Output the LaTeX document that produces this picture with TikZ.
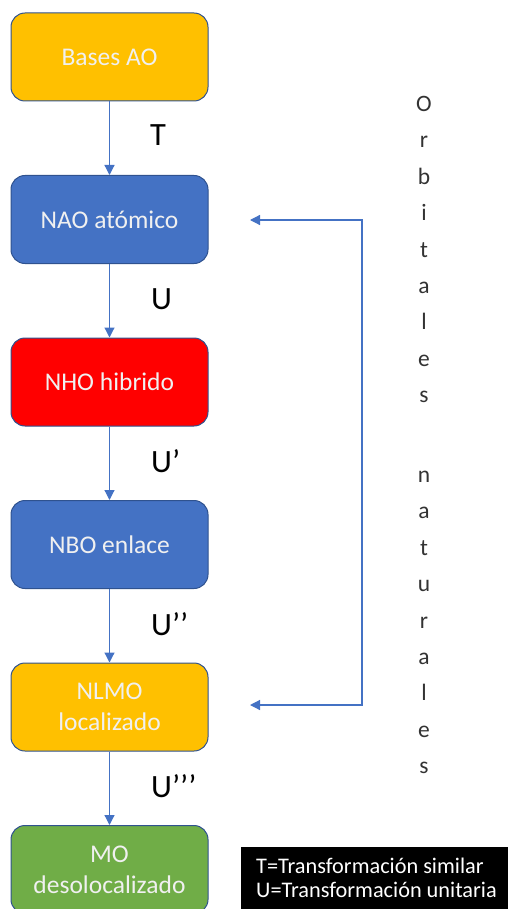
\documentclass[tikz,border=0pt]{standalone}
\usepackage{fontspec}
\setmainfont{Carlito}
\usetikzlibrary{arrows.meta}
\definecolor{oorange}{HTML}{FFC000}
\definecolor{oblue}{HTML}{4472C4}
\definecolor{ored}{HTML}{FF0000}
\definecolor{ogreen}{HTML}{70AD47}
\definecolor{oborder}{HTML}{2F528F}
\tikzset{
  box/.style={draw=oborder, line width=1pt, rounded corners=14pt, minimum width=197pt,
    minimum height=88pt, inner sep=0pt, text=white!94!black, align=center,
    font=\fontsize{25.5}{31}\selectfont},
  conn/.style={draw=oblue, line width=1.2pt, -{Triangle[length=10pt,width=10pt]}},
  lbl/.style={anchor=base west, inner sep=0pt, font=\fontsize{32.5}{36}\selectfont},
  vlet/.style={anchor=base, inner sep=0pt, text=black!80, font=\fontsize{23.5}{27}\selectfont},
  legtxt/.style={anchor=base west, inner sep=0pt, text=white, font=\fontsize{22.3}{25}\selectfont}
}
\begin{document}
\begin{tikzpicture}[x=1pt,y=-1pt]
\useasboundingbox (0,0) rectangle (508,909);
\clip (0,0) rectangle (508,909);
\node[box, fill=oorange] (ao) at (109.5,57) {Bases AO};
\node[box, fill=oblue] (nao) at (109.5,219.5) {NAO atómico};
\node[box, fill=ored] (nho) at (109.5,382) {NHO hibrido};
\node[box, fill=oblue] (nbo) at (109.5,544.5) {NBO enlace};
\node[box, fill=oorange] (nlmo) at (109.5,707) {NLMO\\localizado};
\node[box, fill=ogreen] (mo) at (109.5,869.5) {MO\\desolocalizado};
\draw[conn] (ao) -- (nao);
\draw[conn] (nao) -- (nho);
\draw[conn] (nho) -- (nbo);
\draw[conn] (nbo) -- (nlmo);
\draw[conn] (nlmo) -- (mo);
\node[lbl] (lt) at (150,146) {T};
\node[lbl] (lu1) at (151,309) {U};
\node[lbl] (lu2) at (151,472) {U’};
\node[lbl] (lu3) at (151,635) {U’’};
\node[lbl] (lu4) at (151,797) {U’’’};
\coordinate (b1) at (362,220);
\coordinate (b2) at (362,705);
\coordinate (t1) at (250,220);
\coordinate (t2) at (250,705);
\draw[draw=oblue, line width=1.2pt, {Triangle[length=10pt,width=10pt]}-{Triangle[length=10pt,width=10pt]}] (t1) -- (b1) -- (b2) -- (t2);
\foreach \c [count=\i] in {O,r,b,i,t,a,l,e,s}
  \node[vlet] (wa\i) at (424,{111.5+36.4*(\i-1)}) {\c};
\foreach \c [count=\i] in {n,a,t,u,r,a,l,e,s}
  \node[vlet] (wb\i) at (424,{482.5+36.4*(\i-1)}) {\c};
\fill[black] (241,847) rectangle (508,909);
\node[legtxt] (leg1) at (256,873) {T=Transformación similar};
\node[legtxt] (leg2) at (256,897) {U=Transformación unitaria};
\end{tikzpicture}
\end{document}
